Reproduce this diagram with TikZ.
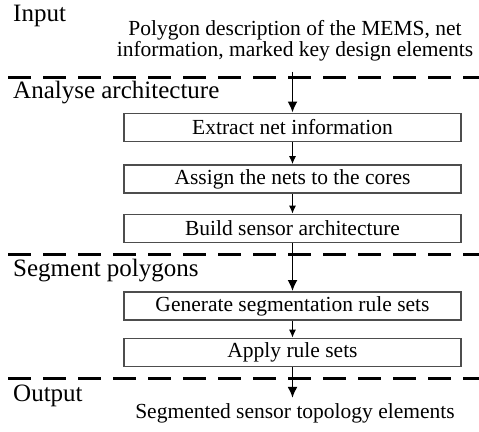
\documentclass[tikz,border=0pt]{standalone}
\usepackage{fontspec}
\setmainfont{Liberation Serif}
\usetikzlibrary{arrows.meta}
\definecolor{boxgray}{HTML}{4D4D4D}
\tikzset{
  stage/.style={anchor=base west,inner sep=0pt,font=\fontsize{25}{25}\selectfont},
  stepbox/.style={draw=boxgray,line width=1.9pt,minimum width=337pt,minimum height=28pt,
    inner sep=0pt,font=\fontsize{21.5}{21.5}\selectfont},
  flowtext/.style={align=center,font=\fontsize{21.5}{21.5}\selectfont},
  sep/.style={line width=3pt,dash pattern=on 23.3pt off 11.7pt},
  flow/.style={line width=1.8pt,-{Latex[length=11pt,width=10pt]}},
  thinflow/.style={line width=1pt,-{Latex[length=8pt,width=7pt]}}
}
\begin{document}
\begin{tikzpicture}[x=1pt,y=-1pt]
  \useasboundingbox (0,0) rectangle (479,431);
  % stage names
  \node[stage] (sin) at (13,21) {Input};
  \node[stage] (sana) at (13,98) {Analyse architecture};
  \node[stage] (sseg) at (13,276) {Segment polygons};
  \node[stage] (sout) at (13,401) {Output};
  % stage borders
  \coordinate (l1) at (8,77);   \coordinate (r1) at (479,77);
  \coordinate (l2) at (8,254);  \coordinate (r2) at (479,254);
  \coordinate (l3) at (8,378);  \coordinate (r3) at (479,378);
  \draw[sep] (l1) -- (r1);
  \draw[sep] (l2) -- (r2);
  \draw[sep] (l3) -- (r3);
  % steps
  \node[flowtext,anchor=north,inner sep=4pt] (inp) at (295,16)
    {Polygon description of the MEMS, net\\information, marked key design elements};
  \node[stepbox] (extract) at (292.5,127.5) {Extract net information};
  \node[stepbox] (assign) at (292.5,179) {Assign the nets to the cores};
  \node[stepbox] (build) at (292.5,228.5) {Build sensor architecture};
  \node[stepbox] (rules) at (292.5,306) {Generate segmentation rule sets};
  \node[stepbox] (apply) at (292.5,352.5) {Apply rule sets};
  \node[flowtext,anchor=base,inner sep=5pt] (out) at (295,418)
    {Segmented sensor topology elements};
  % arrows
  \draw[flow,shorten <=6pt] (extract.north |- inp.south) -- (extract.north);
  \draw[thinflow] (extract) -- (assign);
  \draw[thinflow] (assign) -- (build);
  \draw[flow] (build) -- (rules);
  \draw[thinflow] (rules) -- (apply);
  \draw[flow] (apply.south) -- (apply.south |- out.north);
\end{tikzpicture}
\end{document}
